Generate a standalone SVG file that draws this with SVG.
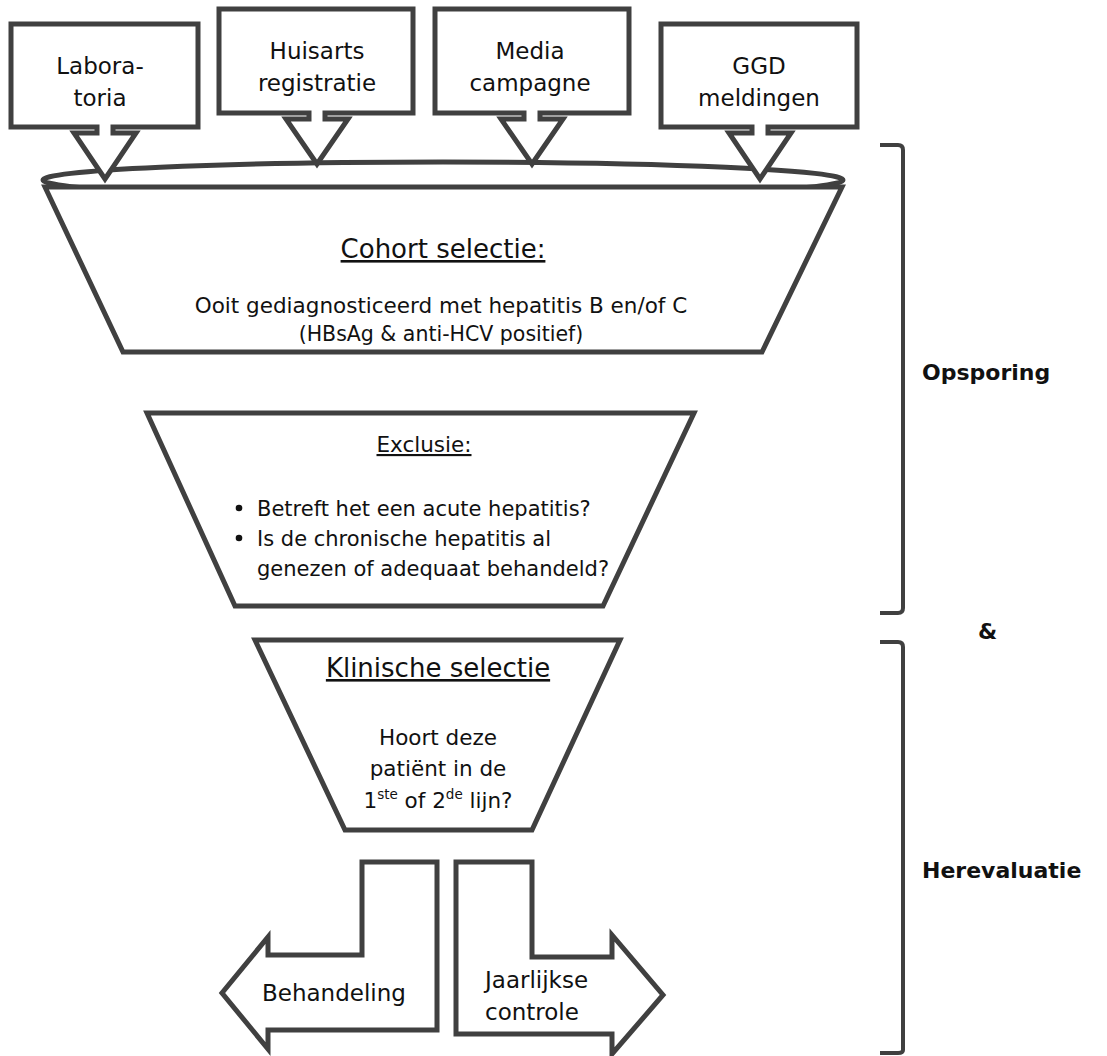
<svg xmlns="http://www.w3.org/2000/svg" width="1107" height="1056" viewBox="0 0 1107 1056">
<style>
.s{fill:#fff;stroke:#404040;stroke-width:5;stroke-linejoin:miter}
.br{fill:none;stroke:#404040;stroke-width:4}
text{font-family:"DejaVu Sans","Liberation Sans",sans-serif;fill:#111;text-anchor:middle}
.t{font-size:21.5px}
.n{font-size:23px}
.h{font-size:26px;text-decoration:underline}
.b{font-size:22px;font-weight:bold;text-anchor:start}
.l{text-anchor:start}
</style>
<rect width="1107" height="1056" fill="#fff"/>
<g id="connectors">
<ellipse class="s" cx="443" cy="180" rx="400" ry="18"/>
</g>
<g id="cohort">
<path class="s" d="M45,187 L842,187 L762,352 L123,352 Z"/>
<text class="h" x="443" y="258">Cohort selectie:</text>
<text class="t" x="441" y="313">Ooit gediagnosticeerd met hepatitis B en/of C</text>
<text class="t" x="441" y="341" style="font-size:20.5px">(HBsAg &amp; anti-HCV positief)</text>
</g>
<g id="lab">
<path class="s" d="M11,24 L198,24 L198,127 L113,127 L113,133 L136,133 L105,179 L74,133 L97,133 L97,127 L11,127 Z"/>
<text class="n" x="100" y="74">Labora-</text>
<text class="n" x="100" y="106">toria</text>
</g>
<g id="huisarts">
<path class="s" d="M219,9 L413,9 L413,113 L325,113 L325,119 L348,119 L317,164 L286,119 L309,119 L309,113 L219,113 Z"/>
<text class="n" x="317" y="59">Huisarts</text>
<text class="n" x="317" y="91">registratie</text>
</g>
<g id="media">
<path class="s" d="M435,9 L629,9 L629,113 L540,113 L540,119 L563,119 L532,164 L501,119 L524,119 L524,113 L435,113 Z"/>
<text class="n" x="530" y="59">Media</text>
<text class="n" x="530" y="91">campagne</text>
</g>
<g id="ggd">
<path class="s" d="M661,24 L857,24 L857,127 L768,127 L768,133 L791,133 L760,179 L729,133 L752,133 L752,127 L661,127 Z"/>
<text class="n" x="759" y="74">GGD</text>
<text class="n" x="759" y="106">meldingen</text>
</g>
<g id="exclusie">
<path class="s" d="M147,413 L694,413 L603,606 L235,606 Z"/>
<text class="t" x="424" y="452" style="text-decoration:underline">Exclusie:</text>
<circle cx="239" cy="508" r="3.3" fill="#111"/>
<circle cx="239" cy="538" r="3.3" fill="#111"/>
<text class="l" x="257" y="516" style="font-size:21px">Betreft het een acute hepatitis?</text>
<text class="l" x="257" y="546" style="font-size:21px">Is de chronische hepatitis al</text>
<text class="l" x="257" y="576" style="font-size:21px">genezen of adequaat behandeld?</text>
</g>
<g id="klinisch">
<path class="s" d="M255,640 L620,640 L532,830 L345,830 Z"/>
<text class="h" x="438" y="677">Klinische selectie</text>
<text class="t" x="438" y="745">Hoort deze</text>
<text class="t" x="438" y="776">patiënt in de</text>
<text class="t" x="438" y="808">1<tspan font-size="13.5" dy="-9">ste</tspan><tspan dy="9"> of 2</tspan><tspan font-size="13.5" dy="-9">de</tspan><tspan dy="9"> lijn?</tspan></text>
</g>
<g id="behandeling">
<path class="s" d="M437,862 L362,862 L362,955 L268,955 L268,937 L222,993 L268,1049 L268,1030 L437,1030 Z"/>
<text class="n l" x="262" y="1001">Behandeling</text>
</g>
<g id="controle">
<path class="s" d="M456,862 L532,862 L532,957 L612,957 L612,935 L663,995 L612,1054 L612,1034 L456,1034 Z"/>
<text class="n l" x="485" y="988">Jaarlijkse</text>
<text class="n l" x="485" y="1020">controle</text>
</g>
<g id="brackets">
<path class="br" d="M880,145 L898,145 Q903,145 903,150 L903,608 Q903,613 898,613 L880,613"/>
<path class="br" d="M880,642 L898,642 Q903,642 903,647 L903,1050 Q903,1053 898,1053 L880,1053"/>
<text class="b" x="922" y="380">Opsporing</text>
<text class="b" x="978" y="639">&amp;</text>
<text class="b" x="922" y="878">Herevaluatie</text>
</g>
</svg>
